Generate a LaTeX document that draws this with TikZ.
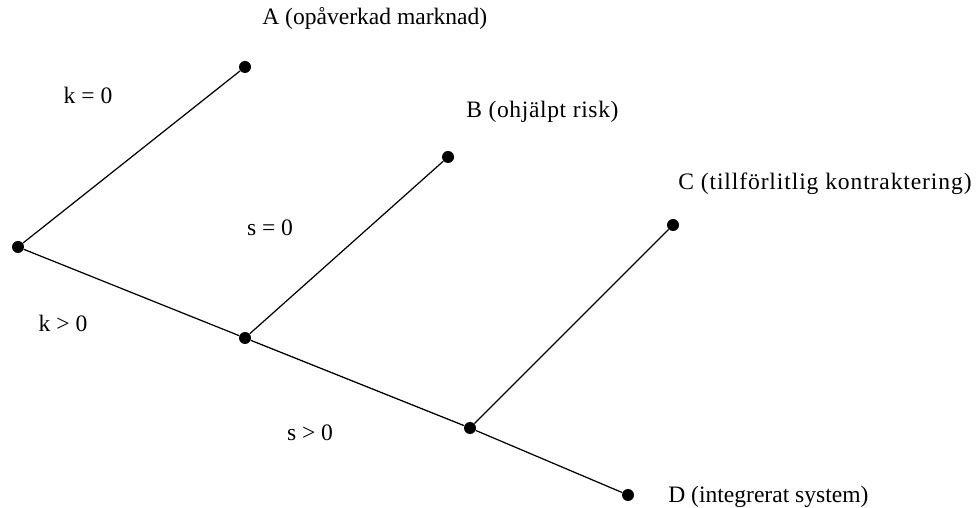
\documentclass[tikz,border=0pt]{standalone}
\usepackage{fontspec}
\setmainfont{Liberation Serif}
\usepackage{tikz}

\begin{document}
\begin{tikzpicture}[
  font=\fontsize{13.4}{16}\selectfont,
  dot/.style={circle,fill=black,inner sep=0pt,minimum size=0.24cm},
  branch/.style={line width=0.7pt},
  lbl/.style={anchor=west,inner sep=0pt},
  cond/.style={inner sep=0pt}
]
\useasboundingbox (0,0) rectangle (19.54,10.16);
\node[dot] (root) at (0.36,5.22) {};
\node[dot] (a)    at (4.90,8.82) {};
\node[dot] (n1)   at (4.90,3.40) {};
\node[dot] (b)    at (8.96,7.02) {};
\node[dot] (n2)   at (9.40,1.60) {};
\node[dot] (c)    at (13.46,5.66) {};
\node[dot] (d)    at (12.56,0.26) {};
\draw[branch] (root)--(a); \draw[branch] (root)--(n1); \draw[branch] (n1)--(b);
\draw[branch] (n1)--(n2); \draw[branch] (n2)--(c); \draw[branch] (n2)--(d);
\node[lbl] (la) at (5.24,9.80) {A (opåverkad marknad)};
\node[lbl] (lb) at (9.32,7.92) {\addfontfeature{LetterSpace=2.7}B (ohjälpt risk)};
\node[lbl] (lc) at (13.56,6.48) {\addfontfeature{LetterSpace=3.8}C (tillförlitlig kontraktering)};
\node[lbl] (ld) at (13.36,0.22) {D (integrerat system)};
\node[cond] (k0) at (1.76,8.26) {k = 0};
\node[cond] (k1) at (1.26,3.70) {k > 0};
\node[cond] (s0) at (5.40,5.60) {s = 0};
\node[cond] (s1) at (6.20,1.50) {s > 0};
\end{tikzpicture}
\end{document}
